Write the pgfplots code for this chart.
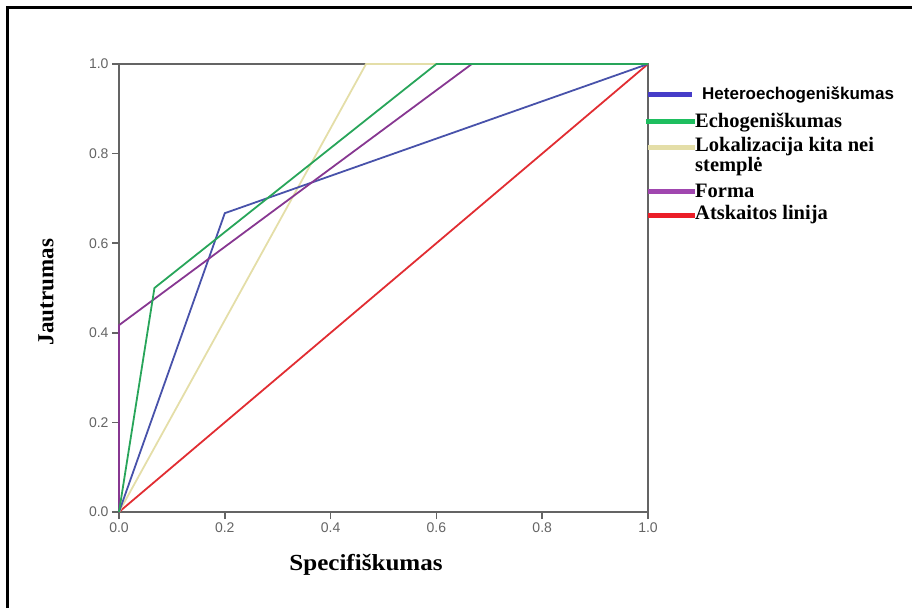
\documentclass[border=0pt]{standalone}
\usepackage{fontspec}
\setmainfont{Liberation Serif}
\setsansfont{Liberation Sans}
\usepackage{pgfplots}
\pgfplotsset{compat=1.18}

\definecolor{cHet}{RGB}{72,82,170}
\definecolor{cEcho}{RGB}{40,165,90}
\definecolor{cLok}{RGB}{228,222,168}
\definecolor{cForma}{RGB}{135,55,145}
\definecolor{cRef}{RGB}{225,45,50}
\definecolor{lHet}{RGB}{70,60,200}
\definecolor{lEcho}{RGB}{30,190,95}
\definecolor{lForma}{RGB}{160,70,175}
\definecolor{lRef}{RGB}{235,30,40}
\definecolor{axgray}{RGB}{100,100,100}

\newcommand{\legfont}{\rmfamily\bfseries\fontsize{20.5}{22}\selectfont}

\begin{document}
\begin{tikzpicture}[x=1pt,y=1pt]
\path[use as bounding box] (0,0) rectangle (912,608);
\draw[line width=2.5pt] (7.5,0) -- (7.5,600.5) -- (912,600.5);

\begin{axis}[
  at={(119pt,96pt)}, anchor=south west,
  scale only axis, width=529pt, height=448pt,
  xmin=0, xmax=1, ymin=0, ymax=1,
  xtick={0,0.2,0.4,0.6,0.8,1}, ytick={0,0.2,0.4,0.6,0.8,1},
  xticklabel style={/pgf/number format/fixed,/pgf/number format/fixed zerofill,/pgf/number format/precision=1},
  yticklabel style={/pgf/number format/fixed,/pgf/number format/fixed zerofill,/pgf/number format/precision=1},
  /pgf/number format/assume math mode=true,
  tick label style={font=\sffamily\fontsize{14}{14}\selectfont, text=axgray},
  axis line style={axgray, line width=1.5pt},
  tick style={axgray, line width=1.5pt},
  tick align=outside, major tick length=7pt,
  xtick pos=bottom, ytick pos=left,
  clip=false,
]
\addplot[cRef, line width=1.8pt] coordinates {(0,0)(1,1)};
\addplot[cLok, line width=1.8pt] coordinates {(0,0)(0.467,1)(1,1)};
\addplot[cHet, line width=1.8pt] coordinates {(0,0)(0.2,0.667)(1,1)};
\addplot[cForma, line width=1.8pt] coordinates {(0,0)(0,0.417)(0.667,1)(1,1)};
\addplot[cEcho, line width=1.8pt] coordinates {(0,0)(0.067,0.5)(0.6,1)(1,1)};
\end{axis}

% axis titles
\node[font=\rmfamily\bfseries\fontsize{23}{25}\selectfont, xscale=1.09] at (366,43) {Specifiškumas};
\node[font=\rmfamily\bfseries\fontsize{23}{25}\selectfont, rotate=90] at (46,316) {Jautrumas};

% legend
\draw[lHet, line width=5pt] (648,513) -- (692,513);
\node[anchor=base west, inner sep=0pt, font=\sffamily\bfseries\fontsize{17}{19}\selectfont] at (702,508) {Heteroechogeniškumas};
\draw[lEcho, line width=5pt] (646,486) -- (695,486);
\node[anchor=base west, inner sep=0pt, font=\legfont] at (695,480) {Echogeniškumas};
\draw[cLok, line width=5pt] (648,460) -- (695,460);
\node[anchor=base west, inner sep=0pt, font=\legfont] at (695,456) {Lokalizacija kita nei};
\node[anchor=base west, inner sep=0pt, font=\legfont] at (695,436) {stemplė};
\draw[lForma, line width=5pt] (648,416) -- (695,416);
\node[anchor=base west, inner sep=0pt, font=\legfont] at (695,410) {Forma};
\draw[lRef, line width=5pt] (648,392) -- (695,392);
\node[anchor=base west, inner sep=0pt, font=\legfont] at (695,388) {Atskaitos linija};
\end{tikzpicture}
\end{document}
